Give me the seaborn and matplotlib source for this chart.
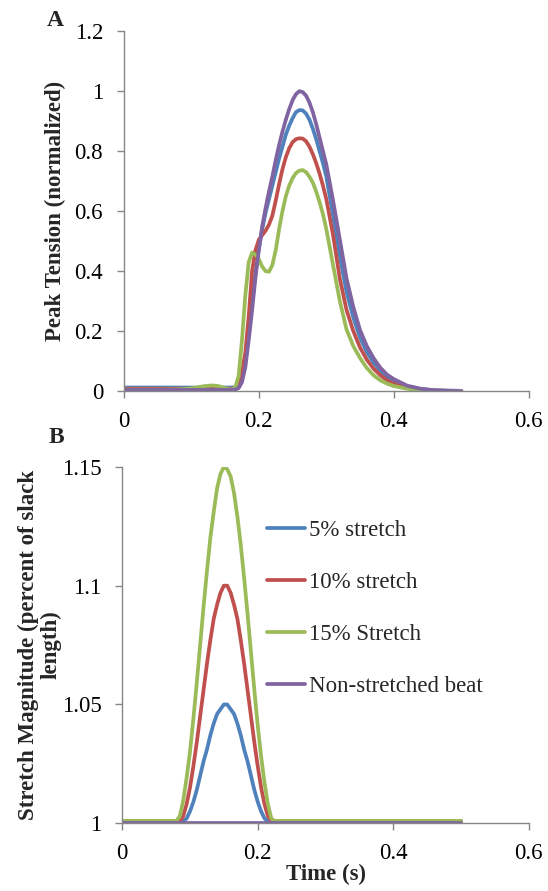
#%% libraries
import matplotlib
matplotlib.use('Agg')
import matplotlib.pyplot as plt
import pandas as pd
import seaborn as sb

#%% data
series = ['5% stretch', '10% stretch', '15% Stretch', 'Non-stretched beat']
colors = ['#4F81BD', '#C0504D', '#9BBB59', '#8064A2']

# panel A: normalised peak tension
time_a = [0, 0.02, 0.04, 0.06, 0.08, 0.10, 0.11, 0.12, 0.13, 0.14, 0.15, 0.16,
          0.165, 0.17, 0.175, 0.18, 0.185, 0.19, 0.195, 0.20, 0.205, 0.21, 0.215,
          0.22, 0.225, 0.23, 0.235, 0.24, 0.245, 0.25, 0.255, 0.26, 0.265, 0.27,
          0.275, 0.28, 0.285, 0.29, 0.295, 0.30,
          0.31, 0.32, 0.33, 0.34, 0.35, 0.36, 0.37, 0.38, 0.39, 0.40,
          0.42, 0.44, 0.46, 0.48, 0.50]
tension_5 = [0.012] * 12 + [
    0.013, 0.02, 0.045, 0.10, 0.19, 0.29, 0.39, 0.475, 0.54, 0.595, 0.64,
    0.685, 0.73, 0.775, 0.815, 0.855, 0.885, 0.91, 0.93, 0.937, 0.936, 0.925,
    0.905, 0.875, 0.84, 0.80, 0.76, 0.715,
    0.585, 0.45, 0.33, 0.245, 0.178, 0.13, 0.095, 0.068, 0.048, 0.033,
    0.015, 0.007, 0.003, 0.002, 0.001]
tension_10 = [0.008] * 12 + [
    0.01, 0.025, 0.06, 0.13, 0.25, 0.40, 0.47, 0.505, 0.52, 0.535, 0.555,
    0.585, 0.635, 0.69, 0.74, 0.78, 0.81, 0.83, 0.84, 0.843, 0.842, 0.833,
    0.815, 0.79, 0.76, 0.725, 0.685, 0.64,
    0.52, 0.375, 0.27, 0.20, 0.145, 0.105, 0.075, 0.053, 0.036, 0.024,
    0.011, 0.005, 0.002, 0.001, 0.0]
tension_15 = [0.005, 0.005, 0.005, 0.005, 0.006, 0.009, 0.013, 0.017, 0.019,
              0.017, 0.01, 0.005,
              0.012, 0.05, 0.17, 0.32, 0.43, 0.462, 0.455, 0.44, 0.415, 0.40, 0.398,
              0.42, 0.47, 0.54, 0.60, 0.65, 0.685, 0.71, 0.727, 0.735, 0.737, 0.73,
              0.715, 0.695, 0.665, 0.63, 0.59, 0.54,
              0.42, 0.30, 0.205, 0.15, 0.11, 0.077, 0.053, 0.036, 0.025, 0.017,
              0.008, 0.004, 0.002, 0.001, 0.0]
tension_0 = [0.004] * 12 + [
    0.005, 0.01, 0.03, 0.08, 0.17, 0.27, 0.38, 0.47, 0.55, 0.61, 0.665,
    0.715, 0.77, 0.82, 0.865, 0.905, 0.94, 0.97, 0.99, 1.0, 0.997, 0.985,
    0.962, 0.93, 0.89, 0.845, 0.80, 0.755,
    0.635, 0.505, 0.375, 0.28, 0.203, 0.15, 0.11, 0.078, 0.055, 0.04,
    0.018, 0.008, 0.003, 0.001, 0.0]

# panel B: stretch magnitude
time_b = [0, 0.02, 0.04, 0.06, 0.08, 0.085, 0.09, 0.095, 0.10, 0.105, 0.11,
          0.115, 0.12, 0.125, 0.13, 0.135, 0.14, 0.145, 0.15, 0.155, 0.16,
          0.165, 0.17, 0.175, 0.18, 0.185, 0.19, 0.195, 0.20, 0.205, 0.21,
          0.215, 0.22, 0.225, 0.23, 0.25, 0.30, 0.35, 0.40, 0.45, 0.50]
stretch_5 = [1.001, 1.001, 1.001, 1.001, 1.001, 1.001, 1.001, 1.002, 1.005, 1.009,
             1.014, 1.020, 1.026, 1.031, 1.037, 1.042, 1.046, 1.048, 1.050, 1.050,
             1.048, 1.046, 1.042, 1.037, 1.031, 1.026, 1.020, 1.014, 1.009, 1.005,
             1.002, 1.001, 1.001, 1.001, 1.001, 1.001, 1.001, 1.001, 1.001, 1.001,
             1.001]
stretch_10 = [1.001, 1.001, 1.001, 1.001, 1.001, 1.001, 1.003, 1.008, 1.015, 1.024,
              1.034, 1.045, 1.056, 1.067, 1.077, 1.086, 1.092, 1.097, 1.100, 1.100,
              1.097, 1.092, 1.086, 1.077, 1.067, 1.056, 1.045, 1.034, 1.024, 1.015,
              1.008, 1.003, 1.001, 1.001, 1.001, 1.001, 1.001, 1.001, 1.001, 1.001,
              1.001]
stretch_15 = [1.001, 1.001, 1.001, 1.001, 1.001, 1.003, 1.0095, 1.019, 1.030, 1.044,
              1.059, 1.075, 1.091, 1.106, 1.120, 1.131, 1.141, 1.147, 1.150, 1.149,
              1.146, 1.139, 1.129, 1.117, 1.103, 1.088, 1.072, 1.056, 1.041, 1.028,
              1.017, 1.008, 1.002, 1.001, 1.001, 1.001, 1.001, 1.001, 1.001, 1.001,
              1.001]
stretch_0 = [1.0] * 41

#%% long form tables
df_a = {'time': [], 'value': [], 'series': []}
for name, vals in zip(series, [tension_5, tension_10, tension_15, tension_0]):
    df_a['time'].extend(time_a)
    df_a['value'].extend(vals)
    df_a['series'].extend([name] * len(vals))
df_a = pd.DataFrame.from_dict(df_a)

df_b = {'time': [], 'value': [], 'series': []}
for name, vals in zip(series, [stretch_5, stretch_10, stretch_15, stretch_0]):
    df_b['time'].extend(time_b)
    df_b['value'].extend(vals)
    df_b['series'].extend([name] * len(vals))
df_b = pd.DataFrame.from_dict(df_b)

#%% style
sb.set_style('ticks')
plt.rcParams['font.family'] = ['Liberation Serif', 'DejaVu Serif']
plt.rcParams['font.size'] = 16.5
plt.rcParams['axes.edgecolor'] = '#868686'
plt.rcParams['xtick.color'] = '#868686'
plt.rcParams['ytick.color'] = '#868686'
plt.rcParams['xtick.labelcolor'] = 'black'
plt.rcParams['ytick.labelcolor'] = 'black'

fig = plt.figure(figsize=(5.48, 8.91), dpi=100)
ax1 = fig.add_axes([0.226, 0.561, 0.739, 0.404])
ax2 = fig.add_axes([0.223, 0.076, 0.742, 0.4])

lw = 2.7
sb.lineplot(data=df_a, x='time', y='value', hue='series', hue_order=series,
            palette=colors, linewidth=lw, ax=ax1, legend=False)
sb.lineplot(data=df_b, x='time', y='value', hue='series', hue_order=series,
            palette=colors, linewidth=lw, ax=ax2)

for ax in [ax1, ax2]:
    sb.despine(ax=ax)
    ax.set_xlim(0, 0.6)
    ax.set_xticks([0, 0.2, 0.4, 0.6])
    ax.set_xticklabels(['0', '0.2', '0.4', '0.6'])
    ax.tick_params(direction='out', length=5, width=1, labelsize=16.5)
    ax.tick_params(axis='x', pad=9)
    ax.tick_params(axis='y', pad=10)
    for sp in ax.spines.values():
        sp.set_linewidth(1)

ax1.set_ylim(0, 1.2)
ax1.set_yticks([0, 0.2, 0.4, 0.6, 0.8, 1.0, 1.2])
ax1.set_yticklabels(['0', '0.2', '0.4', '0.6', '0.8', '1', '1.2'])
ax1.set_xlabel('')
ax1.set_ylabel('Peak Tension (normalized)', fontweight='bold', fontsize=16.5)
ax1.yaxis.set_label_coords(-0.143, 0.5)

ax2.set_ylim(1, 1.15)
ax2.set_yticks([1, 1.05, 1.1, 1.15])
ax2.set_yticklabels(['1', '1.05', '1.1', '1.15'])
ax2.set_xlabel('Time (s)', fontweight='bold', fontsize=16.5, labelpad=0)
ax2.set_ylabel('Stretch Magnitude (percent of slack\nlength)', fontweight='bold',
               fontsize=16.5, linespacing=1.1)
ax2.yaxis.set_label_coords(-0.149, 0.5)

leg = ax2.legend(loc='upper left', bbox_to_anchor=(0.356, 0.85), frameon=False,
                 fontsize=16.5, handlelength=1.67, handletextpad=0.15,
                 labelspacing=1.35, borderpad=0, borderaxespad=0)
for line in leg.get_lines():
    line.set_linewidth(lw)

fig.text(0.086, 0.977, 'A', fontsize=17, fontweight='bold', va='center', ha='left')
fig.text(0.089, 0.5095, 'B', fontsize=17, fontweight='bold', va='center', ha='left')

fig.savefig('out.png', dpi=100)
